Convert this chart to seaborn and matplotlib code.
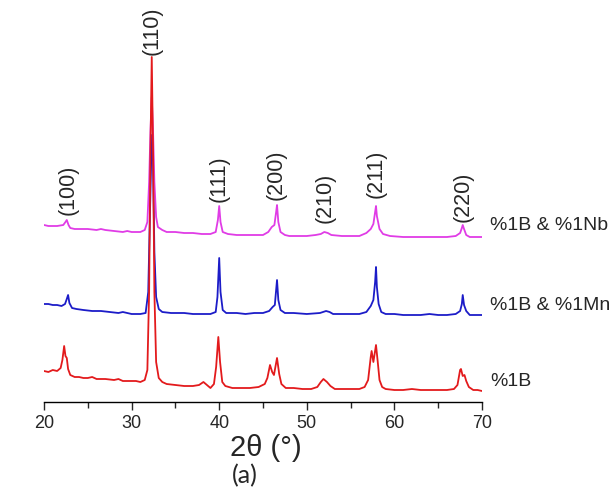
import matplotlib
matplotlib.use("Agg")
import matplotlib.pyplot as plt
import seaborn as sns
from matplotlib.ticker import MultipleLocator

# XRD patterns (2theta in degrees, intensity in a.u.)
two_theta_b = [20, 20.5, 21, 21.5, 21.9, 22.1, 22.3, 22.45, 22.6, 22.75, 23.0, 23.5, 24, 24.5, 25, 25.5,
               26, 27, 28, 28.5, 29, 30, 30.5, 31, 31.5, 31.8, 32.0, 32.15, 32.3, 32.45, 32.6, 32.8,
               33.1, 33.5, 34, 35, 36, 37, 37.7, 38.2, 38.6, 39.0, 39.4, 39.65, 39.9, 40.1, 40.35,
               40.7, 41.5, 42.5, 43.5, 44.5, 45.2, 45.5, 45.8, 46.05, 46.25, 46.6, 46.85, 47.1, 47.6,
               48.5, 49.5, 50.5, 51.2, 51.6, 51.9, 52.3, 52.7, 53.2, 54, 55, 56, 56.6, 57.0, 57.3,
               57.4, 57.6, 57.9, 58.1, 58.3, 58.6, 59, 60, 61, 62, 63, 64, 65, 66, 66.8, 67.2, 67.5,
               67.6, 67.8, 68.0, 68.2, 68.5, 69, 69.5, 70]
int_b = [31, 30, 32, 31, 34, 42, 56, 46, 44, 33, 27, 25, 25, 24, 24, 25,
         23, 23, 22, 23, 21, 21, 21, 20, 22, 32, 110, 250, 345, 250, 110, 40,
         24, 20, 18, 17, 16, 16, 17, 20, 17, 14, 18, 35, 65, 40, 20,
         16, 14, 14, 14, 15, 18, 24, 37, 30, 27, 44, 28, 18, 14,
         14, 13, 13, 15, 20, 23, 20, 16, 13, 13, 13, 13, 15, 22, 45,
         51, 40, 57, 40, 22, 15, 13, 12, 12, 13, 12, 12, 12, 12, 13, 17, 32,
         33, 26, 27, 21, 15, 12, 12, 11]

two_theta_mn = [20, 20.5, 21, 21.5, 22, 22.4, 22.6, 22.75, 22.9, 23.2, 23.7, 24.5, 25.5, 26.5, 27.5,
                28.5, 29, 29.5, 30, 31, 31.6, 31.9, 32.1, 32.3, 32.45, 32.6, 32.8, 33.1, 33.5, 34.5,
                36, 37, 38, 39, 39.6, 39.8, 40.0, 40.15, 40.4, 40.8, 42, 43, 44, 45, 45.7, 46.1,
                46.35, 46.6, 46.75, 47.0, 47.5, 48.5, 50, 51.5, 52.2, 52.6, 53, 54, 55, 56, 56.8,
                57.3, 57.6, 57.8, 57.9, 58.0, 58.2, 58.5, 59, 60, 61, 62, 63, 64, 65, 66, 67, 67.5,
                67.7, 67.8, 67.95, 68.2, 68.6, 69, 70]
int_mn = [8, 8, 7, 7, 6, 8, 13, 17, 9, 4, 3, 2, 1, 1, 0,
          -1, 0, -1, -2, -2, -1, 20, 100, 177, 150, 60, 15, 3, 0, -1,
          -1, -2, -2, -2, 0, 15, 54, 20, 2, -1, -1, -2, -1, -1, 1, 5,
          7, 32, 12, 2, -1, -1, -2, -1, 1, 0, -2, -2, -2, -2, 0,
          6, 12, 30, 45, 25, 8, 0, -2, -2, -3, -3, -3, -2, -3, -3, -2, 1,
          8, 17, 7, 1, -3, -3, -3]

two_theta_nb = [20, 20.5, 21, 21.5, 22.2, 22.45, 22.6, 22.8, 23, 23.5, 24, 25, 26, 26.5, 27, 28,
                29, 29.5, 30, 31, 31.5, 31.8, 32.0, 32.15, 32.3, 32.45, 32.6, 32.8, 33.0, 33.5, 34,
                35, 36, 37, 38, 39, 39.6, 39.85, 40.0, 40.15, 40.4, 41, 42, 43, 44, 45, 45.6, 46.0,
                46.3, 46.5, 46.6, 46.75, 47.0, 47.5, 48, 49, 50, 51, 51.6, 52.0, 52.4, 52.8, 54, 55,
                56, 56.8, 57.3, 57.6, 57.8, 57.9, 58.0, 58.3, 58.7, 59.5, 61, 62, 63, 64, 65, 66,
                67, 67.5, 67.7, 67.8, 67.95, 68.2, 68.6, 69, 70]
int_nb = [7, 6, 6, 6, 7, 10, 12, 7, 4, 3, 3, 3, 2, 3, 2, 1,
          0, 1, 0, 0, 2, 10, 50, 100, 135, 100, 50, 15, 5, 2, 0,
          0, -1, -1, -2, -2, 0, 12, 26, 10, 0, -2, -3, -3, -3, -3, 0, 5,
          7, 20, 27, 10, 0, -3, -4, -4, -4, -3, -2, 0, -1, -3, -4, -4,
          -4, -1, 3, 8, 20, 26, 16, 3, -2, -4, -5, -5, -5, -5, -5, -5,
          -4, -1, 4, 7, 3, -3, -5, -5, -5]

sample_names = ["%1B", "%1B & %1Mn", "%1B & %1Nb"]
offsets = [0, 90, 170]

hkl_labels = ["(100)", "(110)", "(111)", "(200)", "(210)", "(211)", "(220)"]
hkl_pos = [22.7, 32.3, 40.0, 46.5, 52.1, 57.9, 67.8]
hkl_y = [187, 347, 200, 202, 179, 204, 180]

colors = ["#e31a1c", "#1c1cc8", "#e03ce6"]

sns.set_style("white")
plt.rcParams["font.family"] = ["Liberation Sans", "DejaVu Sans"]

fig = plt.figure(figsize=(6.14, 5.01), dpi=100)
ax = fig.add_axes([44 / 614, 1 - 402 / 501, 438 / 614, 402 / 501])

series = [(two_theta_mn, int_mn, 1), (two_theta_nb, int_nb, 2), (two_theta_b, int_b, 0)]
for xs, ys, i in series:
    sns.lineplot(x=xs, y=[v + offsets[i] for v in ys], color=colors[i], lw=1.3, ax=ax)

for lab, xp, yp in zip(hkl_labels, hkl_pos, hkl_y):
    ax.text(xp, yp, lab, rotation=90, ha="center", va="bottom", fontsize=15.5)

label_y = [20, 96, 177]
for name, yp in zip(sample_names, label_y):
    ax.text(70.9, yp, name, ha="left", va="center", fontsize=14, clip_on=False)

ax.set_xlim(20, 70)
ax.set_ylim(0, 402)
ax.xaxis.set_major_locator(MultipleLocator(10))
ax.xaxis.set_minor_locator(MultipleLocator(5))
ax.tick_params(axis="x", which="major", direction="out", length=6, width=1, labelsize=13, bottom=True, pad=3)
ax.tick_params(axis="x", which="minor", direction="out", length=4, width=1, bottom=True)
ax.set_yticks([])
for s in ["left", "top", "right"]:
    ax.spines[s].set_visible(False)
ax.spines["bottom"].set_color("black")
ax.spines["bottom"].set_linewidth(1)
ax.set_xlabel("")
ax.set_ylabel("")

fig.text(266 / 614, 1 - 448 / 501, "2θ (°)", ha="center", va="center", fontsize=21)
fig.text(245 / 614, 1 - 476 / 501, "(a)", ha="center", va="center", fontsize=18, family=["Lato", "DejaVu Sans"])

fig.savefig("out.png", dpi=100)
